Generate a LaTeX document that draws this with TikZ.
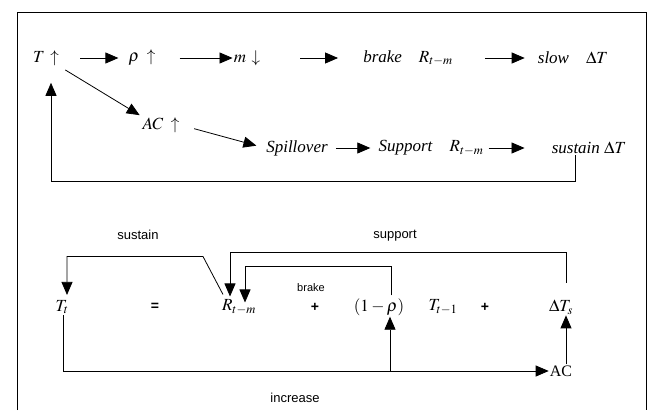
\documentclass[tikz,border=0pt]{standalone}
\usepackage{mathptmx}
\usepackage{fontspec}
\setmainfont{Liberation Serif}
\newfontfamily\labelfont{Liberation Sans}
\usetikzlibrary{arrows.meta}

\begin{document}
\begin{tikzpicture}[x=1pt,y=-1pt,
    arr/.style={-{Triangle[length=13pt,width=11pt]},line width=0.8pt},
    link/.style={line width=0.8pt},
    term/.style={font=\fontsize{17}{20}\selectfont,inner sep=1pt},
    sign/.style={font=\labelfont\bfseries\fontsize{14}{16}\selectfont,inner sep=1pt},
    lbl/.style={font=\labelfont\fontsize{13}{15}\selectfont,inner sep=1pt}]
    \useasboundingbox (0,0) rectangle (651,410);
    % Frame
    \draw[line width=1pt] (17,410) -- (17,12) -- (646,12) -- (646,410);
    % Upper chain
    \node[term] (T1) at (46,58) {$T\,\uparrow$};
    \node[term] (rho) at (142,58) {$\rho\;\uparrow$};
    \node[term] (m) at (247,58) {$m\,\downarrow$};
    \node[term] (brake) at (408,58) {\textit{brake}\quad$R_{t-m}$};
    \node[term] (slow) at (573,58) {\textit{slow}\quad$\Delta T$};
    \node[term] (AC) at (161,125) {$AC\;\uparrow$};
    \node[term] (spill) at (297,148) {\textit{Spillover}};
    \node[term] (support) at (431,148) {\textit{Support}\quad$R_{t-m}$};
    \node[term] (sustain) at (589,148) {\textit{sustain}\ $\Delta T$};
    \draw[arr,shorten <=20pt,shorten >=9pt] (T1.east) -- (rho.west);
    \draw[arr,shorten <=23pt] (rho.east) -- (m.west);
    \draw[arr,shorten <=39pt,shorten >=24pt] (m.east) -- (brake.west);
    \draw[arr,shorten <=31pt,shorten >=12pt] (brake.east) -- (slow.west);
    \draw[arr,shorten <=6pt,shorten >=2pt] (T1.south east) -- (AC.north west);
    \draw[arr,shorten <=14pt,shorten >=9pt] (AC.east) -- (spill.west);
    \draw[arr,shorten <=7pt,shorten >=7pt] (spill.east) -- (support.west);
    \draw[arr,shorten <=4pt,shorten >=26pt] (support.east) -- (sustain.west);
    % Feedback to T
    \draw[arr,shorten >=16pt] ([xshift=-14pt]sustain.south) -- ++(0,26) -| ([xshift=5pt]T1.south);
    % Lower equation
    \node[term] (Tt) at (62,307) {$T_t$};
    \node[sign] (eq) at (155,307) {=};
    \node[term] (R) at (239,307) {$R_{t-m}$};
    \node[sign] (p1) at (315,307) {+};
    \node[term] (onerho) at (379,307) {$(1-\rho)$};
    \node[term] (Tt1) at (443,307) {$T_{t-1}$};
    \node[sign] (p2) at (485,307) {+};
    \node[term] (dTs) at (561,307) {$\Delta T_s$};
    \node[term,font=\fontsize{16}{19}\selectfont] (ACb) at (561,371) {AC};
    % Labels
    \node[lbl] (sustainlbl) at (138,235) {sustain};
    \node[lbl] (supportlbl) at (395,236) {support};
    \node[lbl,font=\labelfont\fontsize{11}{13}\selectfont] (brakelbl) at (311,288) {brake};
    \node[lbl] (increaselbl) at (295,398) {increase};
    % Loops above the equation
    \coordinate (suprow) at (0,252);
    \coordinate (brkrow) at (0,266);
    \draw[arr] ([xshift=-16pt,yshift=4pt]R.north) -- ++(-20,-38) -| ([xshift=5pt,yshift=4pt]Tt.north);
    \draw[arr,shorten <=16pt] ([xshift=5pt]dTs.north) -- ([xshift=5pt]dTs.north |- suprow) -| ([xshift=-9pt,yshift=2pt]R.north);
    \draw[arr] ([xshift=12pt,yshift=2pt]onerho.north) -- ([xshift=12pt]onerho.north |- brkrow) -| ([xshift=6pt,yshift=-4pt]R.north);
    % Loop below the equation
    \coordinate (inc) at (390,371);
    \draw[link] ([xshift=1pt]Tt.south) |- (inc);
    \draw[arr] (inc) -- (inc |- onerho.south);
    \draw[arr] (inc) -- (ACb.west);
    \draw[arr] ([xshift=5pt]ACb.north) -- ([xshift=5pt]dTs.south);
\end{tikzpicture}
\end{document}
